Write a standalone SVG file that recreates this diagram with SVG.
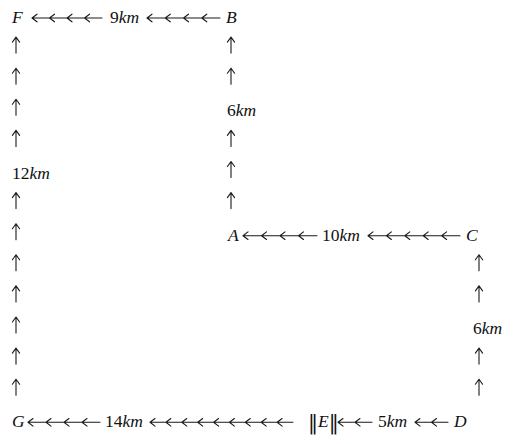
<svg xmlns="http://www.w3.org/2000/svg" width="531" height="444" viewBox="0 0 531 444">
<style>
text{font-family:"Liberation Serif","Times New Roman",serif;font-size:17.5px;fill:#111}
.it{font-style:italic}
.bar{font-family:"DejaVu Serif",serif;font-size:20px}
.arr{fill:none;stroke:#1a1a1a;stroke-width:1.1;stroke-linecap:round;stroke-linejoin:round}
</style>
<defs>
  <path id="up" class="arr" d="M0 0 V16 M-3.6 5 L0 0 L3.6 5"/>
</defs>
<rect width="531" height="444" fill="#fff"/>
<g id="connectors" class="arr">
  <!-- F <- B -->
  <path d="M32 18 H102 M37 14.2 L32 18 L37 21.8 M54.5 14.2 L49.5 18 L54.5 21.8 M72 14.2 L67 18 L72 21.8 M89.5 14.2 L84.5 18 L89.5 21.8"/>
  <path d="M147 18 H220 M152 14.2 L147 18 L152 21.8 M170.25 14.2 L165.25 18 L170.25 21.8 M188.5 14.2 L183.5 18 L188.5 21.8 M206.75 14.2 L201.75 18 L206.75 21.8"/>
  <!-- A <- C -->
  <path d="M243 235.7 H317 M248 231.9 L243 235.7 L248 239.5 M266.5 231.9 L261.5 235.7 L266.5 239.5 M285 231.9 L280 235.7 L285 239.5 M303.5 231.9 L298.5 235.7 L303.5 239.5"/>
  <path d="M368 235.7 H460 M373 231.9 L368 235.7 L373 239.5 M391.4 231.9 L386.4 235.7 L391.4 239.5 M409.8 231.9 L404.8 235.7 L409.8 239.5 M428.2 231.9 L423.2 235.7 L428.2 239.5 M446.6 231.9 L441.6 235.7 L446.6 239.5"/>
  <!-- G <- E <- D -->
  <path d="M28 422.3 H100 M33 418.5 L28 422.3 L33 426.1 M51 418.5 L46 422.3 L51 426.1 M69 418.5 L64 422.3 L69 426.1 M87 418.5 L82 422.3 L87 426.1"/>
  <path d="M150 422.3 H293 M155 418.5 L150 422.3 L155 426.1 M170.9 418.5 L165.9 422.3 L170.9 426.1 M186.8 418.5 L181.8 422.3 L186.8 426.1 M202.7 418.5 L197.7 422.3 L202.7 426.1 M218.6 418.5 L213.6 422.3 L218.6 426.1 M234.4 418.5 L229.4 422.3 L234.4 426.1 M250.3 418.5 L245.3 422.3 L250.3 426.1 M266.2 418.5 L261.2 422.3 L266.2 426.1 M282.1 418.5 L277.1 422.3 L282.1 426.1"/>
  <path d="M338 422.3 H372 M343 418.5 L338 422.3 L343 426.1 M360 418.5 L355 422.3 L360 426.1"/>
  <path d="M415 422.3 H448 M420 418.5 L415 422.3 L420 426.1 M436.5 418.5 L431.5 422.3 L436.5 426.1"/>
  <!-- G up to F -->
  <use href="#up" x="16" y="37.1"/>
  <use href="#up" x="16" y="68.2"/>
  <use href="#up" x="16" y="99.3"/>
  <use href="#up" x="16" y="130.4"/>
  <use href="#up" x="16" y="192.6"/>
  <use href="#up" x="16" y="223.7"/>
  <use href="#up" x="16" y="254.8"/>
  <use href="#up" x="16" y="285.9"/>
  <use href="#up" x="16" y="317"/>
  <use href="#up" x="16" y="348.1"/>
  <use href="#up" x="16" y="379.2"/>
  <!-- A up to B -->
  <use href="#up" x="231" y="37.1"/>
  <use href="#up" x="231" y="68.2"/>
  <use href="#up" x="231" y="130.4"/>
  <use href="#up" x="231" y="161.5"/>
  <use href="#up" x="231" y="192.6"/>
  <!-- D up to C -->
  <use href="#up" x="479" y="254.8"/>
  <use href="#up" x="479" y="285.9"/>
  <use href="#up" x="479" y="348.1"/>
  <use href="#up" x="479" y="379.2"/>
</g>
<g id="labels">
  <text x="110" y="23">9<tspan class="it">km</tspan></text>
  <text x="227" y="116.3">6<tspan class="it">km</tspan></text>
  <text x="12" y="178.5">12<tspan class="it">km</tspan></text>
  <text x="322" y="240.7">10<tspan class="it">km</tspan></text>
  <text x="473" y="334">6<tspan class="it">km</tspan></text>
  <text x="105" y="427.3">14<tspan class="it">km</tspan></text>
  <text x="378" y="427.3">5<tspan class="it">km</tspan></text>
</g>
<g id="node-F"><text class="it" x="12" y="23">F</text></g>
<g id="node-B"><text class="it" x="226" y="23">B</text></g>
<g id="node-A"><text class="it" x="228" y="240.7">A</text></g>
<g id="node-C"><text class="it" x="466" y="240.7">C</text></g>
<g id="node-G"><text class="it" x="12" y="427.3">G</text></g>
<g id="node-E"><text x="308" y="429"><tspan class="bar">‖</tspan><tspan class="it" y="427.3">E</tspan><tspan class="bar" y="429">‖</tspan></text></g>
<g id="node-D"><text class="it" x="454" y="427.3">D</text></g>
</svg>
